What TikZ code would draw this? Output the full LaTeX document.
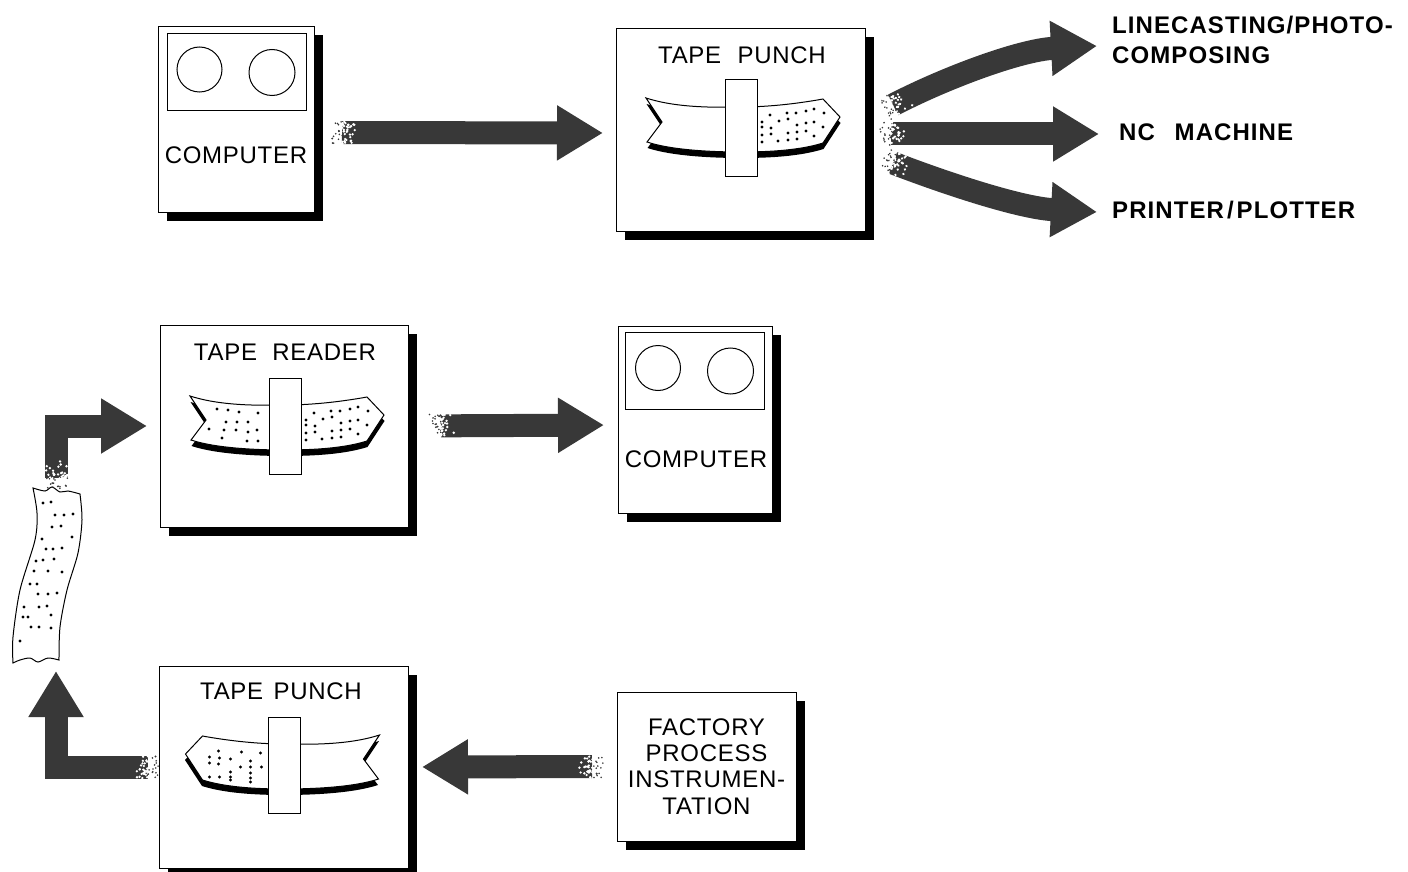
\documentclass[tikz,border=0pt]{standalone}
\usepackage{fontspec}
\setmainfont{Liberation Sans}
\newfontfamily\lblfont[LetterSpace=3]{Liberation Sans}
\newfontfamily\boldfont[LetterSpace=4.5]{Liberation Sans}
\usetikzlibrary{arrows.meta,shadows}
\definecolor{stipple}{gray}{0.22}
\tikzset{ box/.style = { rectangle % unit with its black shadow
, draw
, fill = white
, line width = 1pt
, inner sep = 0pt
, outer sep = 0pt
, drop shadow = {shadow xshift = 8.5pt, shadow yshift = -8.5pt, fill = black, opacity = 1}
}
, lbl/.style = { inner sep = 0pt % printed label
, align = center
, font = \lblfont\fontsize{24}{26.3}\selectfont
}
, dest/.style = { inner sep = 0pt % bold destination label
, anchor = west
, align = left
, font = \boldfont\bfseries\fontsize{24}{30}\selectfont
}
, fat/.style = { draw = stipple % thick stippled arrow
, line width = 23pt
, -{Triangle[length=46pt,width=52pt,fill=stipple]}
}
, outline/.style = { line width = 1pt
}
}
\def\screen(#1,#2){% display and its two reels
\draw[outline] (#1-69.5,#2-38.5) rectangle (#1+69.5,#2+38.5);
\draw[outline] (#1-37,#2-3) circle (22.5pt);
\draw[outline] (#1+35.5,#2) circle (23pt);
}
\def\tapeline{(-95,-30) .. controls (-70,-22) and (-40,-20) .. (0,-21) .. controls (30,-21) and (60,-25) .. (82,-29) -- (99,-11) -- (82,15) .. controls (60,22) and (30,24) .. (0,24) .. controls (-30,24) and (-70,22) .. (-94,14) -- (-79,-6) -- cycle}
\def\tapeband(#1,#2)#3#4{% tape through its slot
\begin{scope}[shift={(#1,#2)},xscale=#3]
\fill[black,shift={(0.5,6)}] \tapeline;
\draw[outline,fill=white] \tapeline;
\foreach \x/\y in {#4} \fill (\x,\y) circle (1.6pt);
\draw[outline,fill=white] (-16,-48) rectangle (16,48);
\end{scope}
}
\def\speck(#1,#2)#3{% worn tail of an arrow
\begin{scope}[shift={(#1,#2)},rotate=#3]
\foreach \i in {1,...,50} {
\pgfmathsetmacro{\sx}{20*rnd*rnd-3}
\pgfmathsetmacro{\sy}{23*(rnd-0.5)}
\fill[white] (\sx,\sy) circle (1.3pt);
}
\foreach \i in {1,...,16} {
\pgfmathsetmacro{\sx}{-11*rnd}
\pgfmathsetmacro{\sy}{23*(rnd-0.5)}
\fill[stipple] (\sx,\sy) circle (0.9pt);
}
\end{scope}
}
\pgfmathsetseed{11}
\begin{document}
\begin{tikzpicture}[x=1pt, y=-1pt]
                    \useasboundingbox (0,0) rectangle (1408,872);
                    % units
                    \node[box, minimum width=156pt, minimum height=185pt] (comp1) at (236,119.5) {};
                    \node[box, minimum width=249pt, minimum height=202pt] (punch1) at (740.5,130) {};
                    \node[box, minimum width=248pt, minimum height=202pt] (reader) at (284,426) {};
                    \node[box, minimum width=154pt, minimum height=187pt] (comp2) at (695,419.5) {};
                    \node[box, minimum width=249pt, minimum height=202pt] (punch2) at (283.5,767) {};
                    \node[box, minimum width=179pt, minimum height=149pt, lbl] (factory) at (706.5,766.5) {FACTORY\\PROCESS\\INSTRUMEN-\\TATION};

                    \screen(236.5,72.5)
                    \screen(695,371)
                    \node[lbl] (comp1txt) at (236,155) {COMPUTER};
                    \node[lbl] (comp2txt) at (696,459) {COMPUTER};
                    \node[lbl] (punch1txt) at (742,55) {TAPE\hspace{9pt} PUNCH};
                    \node[lbl] (readertxt) at (285,352) {TAPE\hspace{8pt} READER};
                    \node[lbl] (punch2txt) at (281,691) {TAPE\hspace{3pt} PUNCH};

                    \tapeband(741,128){1}{29/-13,46/-15,55/-15,65/-17,73/-19,83/-15,38/-7,47/-9,21/-6,21/-1,30/0,56/-3,65/-5,73/-6,82/-1,21/7,30/6,47/5,56/4,65/3,73/8,21/14,37/13,47/12,56/11}
                    \tapeband(285,426){1}{-68/-17,-57/-16,-46/-14,-27/-13,-59/-4,-48/-4,-37/-4,-76/3,-61/4,-49/4,-37/6,-28/4,-63/12,-38/15,-27/15,29/-13,46/-15,55/-15,65/-17,73/-19,83/-15,38/-7,47/-9,21/-6,21/-1,30/0,56/-3,65/-5,73/-6,82/-1,21/7,30/6,47/5,56/4,65/3,73/8,21/14,37/13,47/12,56/11}
                    \tapeband(284.5,765){-1}{66/-14,43/-13,24/-12,75/-8,65/-7,54/-6,34/-4,75/-2,66/-1,44/2,34/2,23/2,54/7,34/8,75/12,65/12,54/12,34/13,54/15,34/17}

                    % loose tape
                    \draw[outline, fill=white] plot[smooth] coordinates {(33,488) (45,491) (52,487) (60,492) (68,491) (80,494)}
                        -- plot[smooth] coordinates {(80,494) (82,520) (78,553) (67,590) (60,627) (59,660)}
                        -- plot[smooth] coordinates {(59,660) (48,658) (38,662) (30,658) (20,660) (13,663)}
                        -- plot[smooth] coordinates {(13,663) (13,637) (20,590) (35,540) (37,513) (33,488)} -- cycle;
                    \foreach \x/\y in {43/503,51/502,55/515,64/515,73/514,52/527,61/526,72/537,42/539,46/549,53/549,62/548,36/561,43/560,54/559,34/571,48/571,62/572,30/584,37/584,38/594,48/594,57/593,24/607,39/607,47/606,23/617,28/617,51/615,31/627,39/627,51/628,20/641} \fill (\x,\y) circle (1.7pt);
                    \coordinate (striptop) at (56,478);
                    \coordinate (stripbot) at (56,671);

                    % destinations
                    \node[dest] (linecast) at (1112,40) {LINECASTING/PHOTO-\\COMPOSING};
                    \node[dest] (ncmach) at (1119,132) {NC\hspace{12pt} MACHINE};
                    \node[dest] (printer) at (1112,210) {PRINTER\hspace{3pt}/\hspace{3pt}PLOTTER};

                    % arrows
                    \draw[fat, shorten <=28pt, shorten >=13pt] ([yshift=-13pt]comp1.east) -- ([yshift=-3pt]punch1.west);
                    \draw[fat, shorten <=32pt, shorten >=14pt] (reader.east) -- ([yshift=-5.5pt]comp2.west);
                    \draw[fat, shorten <=25pt, shorten >=14pt] (factory.west) -- (punch2.east);
                    \draw[fat, shorten >=13pt] (striptop) |- (reader.west);
                    \draw[fat, shorten <=11pt] (punch2.west) -| (stripbot);
                    \draw[fat] ([xshift=28pt,yshift=25pt]punch1.east) .. controls (945,78) and (1020,50) .. ([xshift=-15pt,yshift=-6pt]linecast.west);
                    \draw[fat] ([xshift=26pt,yshift=-4pt]punch1.east) -- ([xshift=-20pt,yshift=-2pt]ncmach.west);
                    \draw[fat] ([xshift=28pt,yshift=-33pt]punch1.east) .. controls (945,183) and (1020,208) .. ([xshift=-15pt,yshift=-2pt]printer.west);

                    \speck(893,105){32}
                    \speck(891,134){0}
                    \speck(893,163){-24}
                    \speck(343,133){0}
                    \speck(440,426){0}
                    \speck(592,767){180}
                    \speck(56,478){90}
                    \speck(148,767){180}
                \end{tikzpicture}
\end{document}
